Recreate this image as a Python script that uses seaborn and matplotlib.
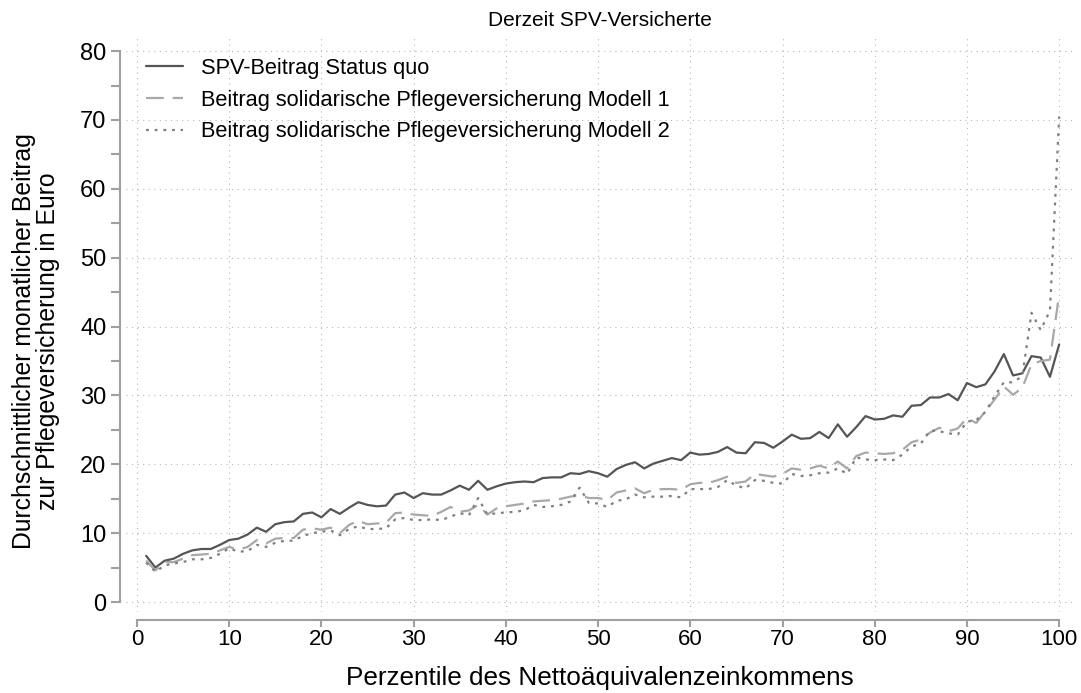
import matplotlib
matplotlib.use("Agg")
import matplotlib.pyplot as plt
import numpy as np
import pandas as pd
import seaborn as sns

# Perzentile 1..100
perzentile = list(range(1, 101))

spv_status_quo = [
    6.7, 5.0, 6.0, 6.3, 7.0, 7.5, 7.7, 7.7, 8.3, 9.0,
    9.2, 9.8, 10.8, 10.2, 11.3, 11.6, 11.7, 12.8, 13.0, 12.3,
    13.5, 12.8, 13.7, 14.5, 14.1, 13.9, 14.0, 15.6, 15.9, 15.1,
    15.8, 15.6, 15.6, 16.2, 16.9, 16.3, 17.6, 16.3, 16.8, 17.2,
    17.4, 17.5, 17.4, 18.0, 18.1, 18.1, 18.7, 18.6, 19.0, 18.7,
    18.2, 19.3, 19.9, 20.3, 19.4, 20.1, 20.5, 20.9, 20.6, 21.7,
    21.4, 21.5, 21.8, 22.5, 21.7, 21.6, 23.2, 23.1, 22.4, 23.3,
    24.3, 23.7, 23.8, 24.7, 23.8, 25.8, 24.0, 25.4, 27.0, 26.5,
    26.6, 27.1, 26.9, 28.5, 28.6, 29.7, 29.7, 30.2, 29.3, 31.8,
    31.2, 31.6, 33.5, 36.0, 32.9, 33.2, 35.7, 35.5, 32.7, 37.4,
]

modell_1 = [
    6.0, 4.6, 5.8, 5.8, 6.3, 6.8, 6.9, 7.0, 7.5, 8.0,
    7.6, 8.0, 9.0, 8.5, 9.2, 9.3, 9.3, 10.5, 10.7, 10.5,
    10.8, 10.0, 11.2, 11.8, 11.3, 11.4, 11.5, 12.9, 13.0, 12.7,
    12.6, 12.5, 13.1, 13.8, 13.1, 13.3, 14.1, 12.7, 13.6, 13.9,
    14.1, 14.3, 14.6, 14.7, 14.8, 15.0, 15.3, 15.5, 15.1, 15.1,
    14.8, 15.9, 16.2, 16.5, 15.8, 16.3, 16.4, 16.4, 16.3, 17.1,
    17.3, 17.3, 17.7, 18.2, 17.3, 17.5, 18.6, 18.4, 18.2, 18.6,
    19.4, 19.2, 19.4, 19.8, 19.4, 20.4, 19.4, 21.2, 21.7, 21.6,
    21.5, 21.6, 22.1, 23.2, 23.6, 24.6, 25.3, 24.8, 25.2, 26.7,
    26.0, 27.7, 29.4, 31.3, 30.1, 31.1, 34.5, 35.0, 35.2, 44.7,
]

modell_2 = [
    5.7, 4.4, 5.3, 5.6, 5.8, 6.2, 6.2, 6.4, 7.0, 7.8,
    7.3, 7.4, 8.3, 8.0, 8.6, 8.9, 8.9, 9.6, 10.0, 10.2,
    10.4, 9.7, 10.6, 11.0, 10.6, 10.6, 10.7, 12.0, 12.2, 11.9,
    11.9, 12.0, 11.9, 12.4, 12.9, 12.6, 15.1, 12.7, 12.9, 13.0,
    13.1, 13.3, 14.1, 13.8, 13.9, 14.1, 14.6, 16.6, 14.4, 14.3,
    13.8, 14.7, 14.9, 15.6, 15.2, 15.3, 15.3, 15.4, 15.2, 16.4,
    16.4, 16.4, 16.7, 17.7, 16.9, 16.5, 17.7, 17.6, 17.3, 17.2,
    18.6, 18.3, 18.4, 18.7, 18.8, 19.4, 18.6, 21.0, 20.7, 20.6,
    20.7, 20.6, 21.4, 22.6, 23.0, 24.9, 24.8, 24.5, 24.3, 26.2,
    26.4, 27.6, 29.9, 31.9, 31.9, 32.8, 42.0, 39.5, 42.3, 70.5,
]

labels = [
    "SPV-Beitrag Status quo",
    "Beitrag solidarische Pflegeversicherung Modell 1",
    "Beitrag solidarische Pflegeversicherung Modell 2",
]

df = pd.DataFrame({"perzentil": perzentile,
                   labels[0]: spv_status_quo,
                   labels[1]: modell_1,
                   labels[2]: modell_2})

sns.set_style("white")
plt.rcParams["font.family"] = ["Liberation Sans", "DejaVu Sans"]
plt.rcParams["text.color"] = "black"
plt.rcParams["axes.labelcolor"] = "black"

W, H = 1081, 693
fig = plt.figure(figsize=(W / 100, H / 100), dpi=100)
ax = fig.add_axes([126 / W, (H - 612) / H, (1073 - 126) / W, (612 - 38) / H])

sns.lineplot(data=df, x="perzentil", y=labels[0], ax=ax, color="#555555",
             linewidth=1.6, label=labels[0])
sns.lineplot(data=df, x="perzentil", y=labels[1], ax=ax, color="#a8a8a8",
             linewidth=1.6, label=labels[1])
ax.lines[-1].set_dashes([8, 4])
sns.lineplot(data=df, x="perzentil", y=labels[2], ax=ax, color="#808080",
             linewidth=1.6, label=labels[2])
ax.lines[-1].set_dashes([1.3, 2.6])

ax.set_xlim(-1.19, 101.5)
ax.set_ylim(-1.45, 81.9)
ax.set_xticks(range(0, 101, 10))
ax.set_yticks(range(0, 81, 10))
ax.set_yticks(range(5, 80, 10), minor=True)

ax.grid(True, which="major", linestyle=(0, (1, 4)), color="#b8b8b8", linewidth=0.8)
ax.set_axisbelow(True)

for s in ["top", "right"]:
    ax.spines[s].set_visible(False)
ax.spines["left"].set_position(("outward", 4.5))
ax.spines["bottom"].set_position(("outward", 5.5))
ax.spines["left"].set_bounds(0, 80)
ax.spines["bottom"].set_bounds(0, 100)
for s in ["left", "bottom"]:
    ax.spines[s].set_color("#a0a0a0")
    ax.spines[s].set_linewidth(1.5)

ax.tick_params(axis="both", which="both", direction="out", color="#a0a0a0",
               width=1.5, labelcolor="black", left=True, bottom=True)
ax.tick_params(axis="y", which="both", length=6.5, pad=3, labelsize=17)
ax.tick_params(axis="x", which="major", length=5, pad=1.5, labelsize=16)

ax.set_xlabel("Perzentile des Nettoäquivalenzeinkommens", fontsize=18.8, labelpad=12)
ax.set_ylabel("Durchschnittlicher monatlicher Beitrag\nzur Pflegeversicherung in Euro",
              fontsize=17.8, linespacing=1.0)
ax.yaxis.set_label_coords(-0.0697, 0.472)
ax.set_title("Derzeit SPV-Versicherte", fontsize=15, pad=9)

leg = ax.legend(loc="upper left", frameon=False,
                fontsize=15.7, handlelength=1.7, handletextpad=0.85,
                labelspacing=0.5, borderaxespad=0.5)

fig.savefig("out.png", dpi=100)
